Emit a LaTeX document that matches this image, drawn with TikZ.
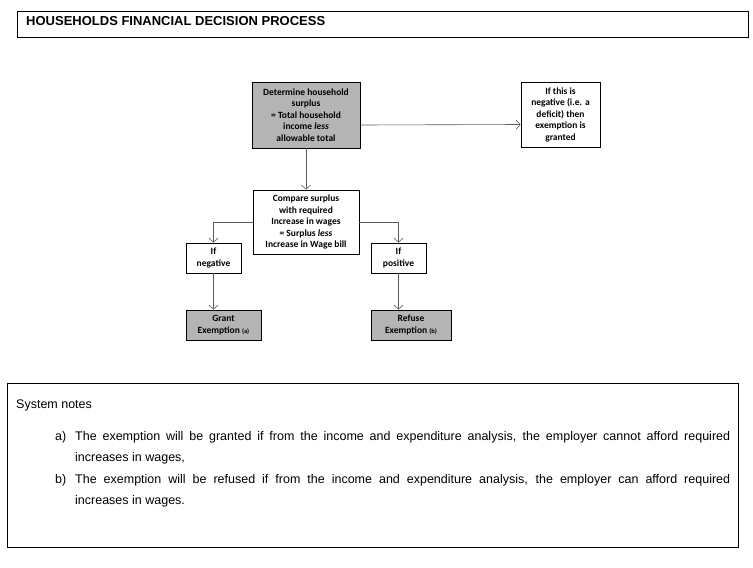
\documentclass[tikz,border=0pt]{standalone}
\usepackage{fontspec}
\setmainfont{Liberation Sans}
\newfontfamily\boxfont{Carlito}
\usetikzlibrary{arrows.meta}
\definecolor{boxgray}{RGB}{180,180,180}
\definecolor{linegray}{RGB}{90,90,90}
\begin{document}
\begin{tikzpicture}[x=1pt,y=-1pt,
  frame/.style={draw, line width=0.8pt, inner sep=0pt},
  box/.style={draw, line width=0.8pt, inner sep=0pt, align=center,
    font=\boxfont\bfseries\fontsize{9.5}{11.5}\selectfont},
  grey/.style={fill=boxgray},
  conn/.style={draw=linegray, line width=0.6pt, -{Straight Barb[length=4pt,width=9pt]}},
  notefont/.style={font=\fontsize{12.5}{21.5}\selectfont}
]
\useasboundingbox (0,0) rectangle (753,568);
% title
\node[frame, anchor=north west, minimum width=731pt, minimum height=26pt] (titlebox) at (17,11) {};
\node[anchor=base west, inner sep=0pt, font=\bfseries\fontsize{13}{15}\selectfont] (title) at (26,25.7) {HOUSEHOLDS FINANCIAL DECISION PROCESS};
% flow boxes
\node[box, grey, minimum width=108pt, minimum height=66pt] (det) at (306,115)
  {Determine household\\surplus\\= Total household\\income \textit{less}\\allowable total};
\node[box, minimum width=79pt, minimum height=65pt] (neg) at (560.5,114.5)
  {If this is\\negative (i.e. a\\deficit) then\\exemption is\\granted};
\node[box, minimum width=106pt, minimum height=64pt] (cmp) at (306,222)
  {Compare surplus\\with required\\Increase in wages\\= Surplus \textit{less}\\Increase in Wage bill};
\node[box, minimum width=55pt, minimum height=30pt] (ifneg) at (213.5,258) {If\\negative};
\node[box, minimum width=55pt, minimum height=30pt] (ifpos) at (398.5,258) {If\\positive};
\node[box, grey, minimum width=75pt, minimum height=30pt] (grant) at (223.5,325)
  {Grant\\Exemption {\fontsize{6.5}{7}\selectfont (a)}};
\node[box, grey, minimum width=80pt, minimum height=30pt] (refuse) at (411,325)
  {Refuse\\Exemption {\fontsize{6.5}{7}\selectfont (b)}};
% connectors
\draw[conn] ([yshift=-10pt]det.east) -- ([yshift=-10pt]neg.west);
\draw[conn] (det.south) -- (cmp.north);
\draw[conn] (cmp.west) -| (ifneg.north);
\draw[conn] (cmp.east) -| (ifpos.north);
\draw[conn] (ifneg.south) -- (ifneg.south |- grant.north);
\draw[conn] (ifpos.south) -- (ifpos.south |- refuse.north);
% notes
\node[frame, anchor=north west, minimum width=731pt, minimum height=164pt] (notes) at (7,383) {};
\node[anchor=base west, inner sep=0pt, notefont] (sysnotes) at (16,408) {System notes};
\node[anchor=base west, inner sep=0pt, notefont] (notea) at (55,440)
  {\makebox[20pt][l]{a)}\parbox[t]{655pt}{\fontsize{12.5}{21.5}\selectfont The exemption will be granted if from the income and expenditure analysis, the employer cannot afford required\linebreak increases in wages,}};
\node[anchor=base west, inner sep=0pt, notefont] (noteb) at (55,483)
  {\makebox[20pt][l]{b)}\parbox[t]{655pt}{\fontsize{12.5}{21.5}\selectfont The exemption will be refused if from the income and expenditure analysis, the employer can afford required\linebreak increases in wages.}};
\end{tikzpicture}
\end{document}
